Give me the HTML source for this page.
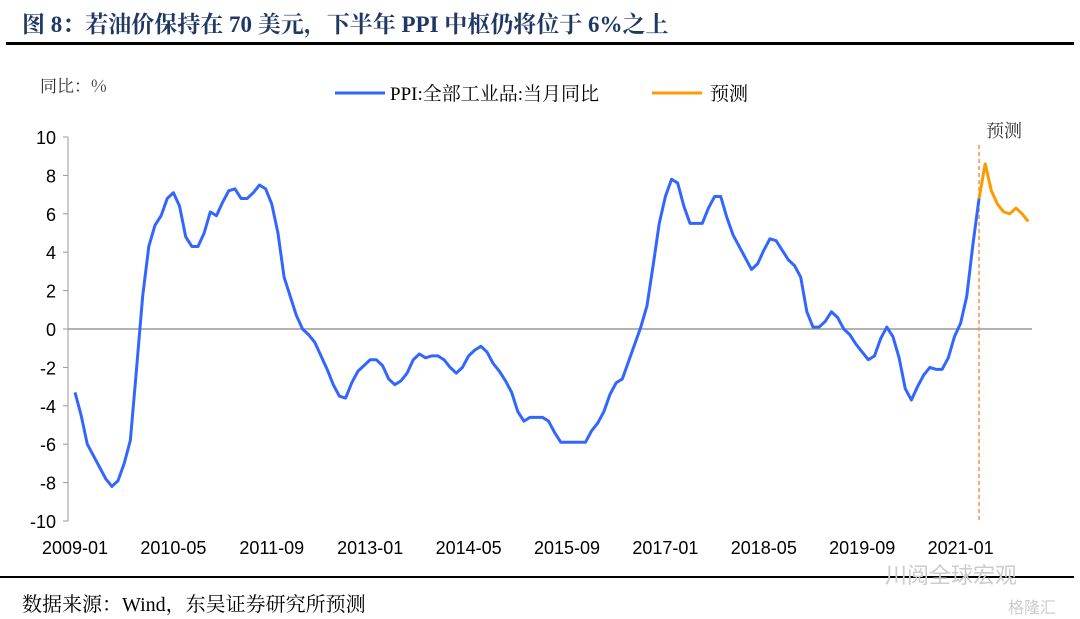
<!DOCTYPE html>
<html><head><meta charset="utf-8"><style>
body{margin:0;background:#fff;width:1080px;height:619px;overflow:hidden;position:relative;font-family:"Liberation Sans","Noto Serif CJK SC",sans-serif}
.t{position:absolute;white-space:nowrap}
</style></head><body>
<div class="t" style="left:22px;top:6px;font-size:23px;font-weight:bold;color:#1F3864;font-family:'Liberation Serif','Noto Serif CJK SC',serif">图 8：若油价保持在 70 美元，下半年 PPI 中枢仍将位于 6%之上</div>
<div style="position:absolute;left:6px;top:42px;width:1068px;height:3px;background:#000"></div>
<div style="position:absolute;left:0;top:576px;width:1074px;height:2px;background:#000"></div>
<div class="t" style="left:22px;top:588px;font-size:20px;color:#000;font-family:'Liberation Serif','Noto Serif CJK SC',serif">数据来源：Wind，东吴证券研究所预测</div>
<div class="t" style="left:885px;top:558px;font-size:22px;color:#ccc;font-family:'Noto Sans CJK SC',sans-serif">川阅全球宏观</div>
<div class="t" style="left:1008px;top:594px;font-size:16px;color:#ccc;font-family:'Noto Sans CJK SC',sans-serif">格隆汇</div>
<svg id="c" width="1080" height="619" style="position:absolute;left:0;top:0"></svg>
<script>
const months=['2009-01','2010-05','2011-09','2013-01','2014-05','2015-09','2017-01','2018-05','2019-09','2021-01'];
const yTicks=[10,8,6,4,2,0,-2,-4,-6,-8,-10];
const actual=[-3.3,-4.5,-6.0,-6.6,-7.2,-7.8,-8.2,-7.9,-7.0,-5.8,-2.1,1.7,
4.3,5.4,5.9,6.8,7.1,6.4,4.8,4.3,4.3,5.0,6.1,5.9,
6.6,7.2,7.3,6.8,6.8,7.1,7.5,7.3,6.5,5.0,2.7,1.7,
0.7,0.0,-0.3,-0.7,-1.4,-2.1,-2.9,-3.5,-3.6,-2.8,-2.2,-1.9,
-1.6,-1.6,-1.9,-2.6,-2.9,-2.7,-2.3,-1.6,-1.3,-1.5,-1.4,-1.4,
-1.6,-2.0,-2.3,-2.0,-1.4,-1.1,-0.9,-1.2,-1.8,-2.2,-2.7,-3.3,
-4.3,-4.8,-4.6,-4.6,-4.6,-4.8,-5.4,-5.9,-5.9,-5.9,-5.9,-5.9,
-5.3,-4.9,-4.3,-3.4,-2.8,-2.6,-1.7,-0.8,0.1,1.2,3.3,5.5,
6.9,7.8,7.6,6.4,5.5,5.5,5.5,6.3,6.9,6.9,5.8,4.9,
4.3,3.7,3.1,3.4,4.1,4.7,4.6,4.1,3.6,3.3,2.7,0.9,
0.1,0.1,0.4,0.9,0.6,0.0,-0.3,-0.8,-1.2,-1.6,-1.4,-0.5,
0.1,-0.4,-1.5,-3.1,-3.7,-3.0,-2.4,-2.0,-2.1,-2.1,-1.5,-0.4,
0.3,1.7,4.4,6.8];
const forecast=[6.8,8.6,7.2,6.5,6.1,6.0,6.3,6.0,5.6];
const svg=document.getElementById('c');const NS='http://www.w3.org/2000/svg';
const X=i=>75+i*6.15, Y=v=>329-v*19.2;
function mk(t,a){const e=document.createElementNS(NS,t);for(const k in a)e.setAttribute(k,a[k]);svg.appendChild(e);return e;}
let ax=mk('line',{x1:68,y1:137,x2:68,y2:521,stroke:'#999'});


yTicks.forEach(v=>{
 let l=mk('line',{x1:63,x2:68,y1:Y(v),y2:Y(v),stroke:'#999'});
 
 
 let t=mk('text',{x:56,y:Y(v)+7,'text-anchor':'end','font-size':18,'font-family':'Liberation Sans'});t.textContent=v;
 
 
});
let z=mk('line',{x1:68,x2:1032,y1:Y(0),y2:Y(0),stroke:'#999','stroke-width':1.5});


months.forEach((m,i)=>{let t=mk('text',{x:X(i*16),y:554,'text-anchor':'middle','font-size':18,'font-family':'Liberation Sans'});t.textContent=m;
 
 });
const fx0=actual.length-1;
let d=mk('line',{x1:X(fx0),x2:X(fx0),y1:145,y2:521,stroke:'#F4914A','stroke-width':1.5,'stroke-dasharray':'4,3'});


let ft=mk('text',{x:986,y:137,'font-size':18,'font-family':'Noto Serif CJK SC,serif',fill:'#333'});ft.textContent='预测';


let p1=mk('polyline',{points:actual.map((v,i)=>X(i)+','+Y(v)).join(' '),fill:'none',stroke:'#3366FF','stroke-width':3,'stroke-linejoin':'round'});


let p2=mk('polyline',{points:forecast.map((v,i)=>X(fx0+i)+','+Y(v)).join(' '),fill:'none',stroke:'#FF9900','stroke-width':3,'stroke-linejoin':'round'});


let yt=mk('text',{x:40,y:92,'font-size':17,'font-family':'Noto Serif CJK SC,serif',fill:'#333'});yt.textContent='同比：%';


let l1=mk('line',{x1:335,x2:385,y1:93,y2:93,stroke:'#3366FF','stroke-width':3});


let lt1=mk('text',{x:390,y:100,'font-size':19,'font-family':'Liberation Serif,Noto Serif CJK SC,serif'});lt1.textContent='PPI:全部工业品:当月同比';


let l2=mk('line',{x1:652,x2:702,y1:93,y2:93,stroke:'#FF9900','stroke-width':3});


let lt2=mk('text',{x:710,y:100,'font-size':19,'font-family':'Noto Serif CJK SC,serif'});lt2.textContent='预测';


</script>
</body></html>
